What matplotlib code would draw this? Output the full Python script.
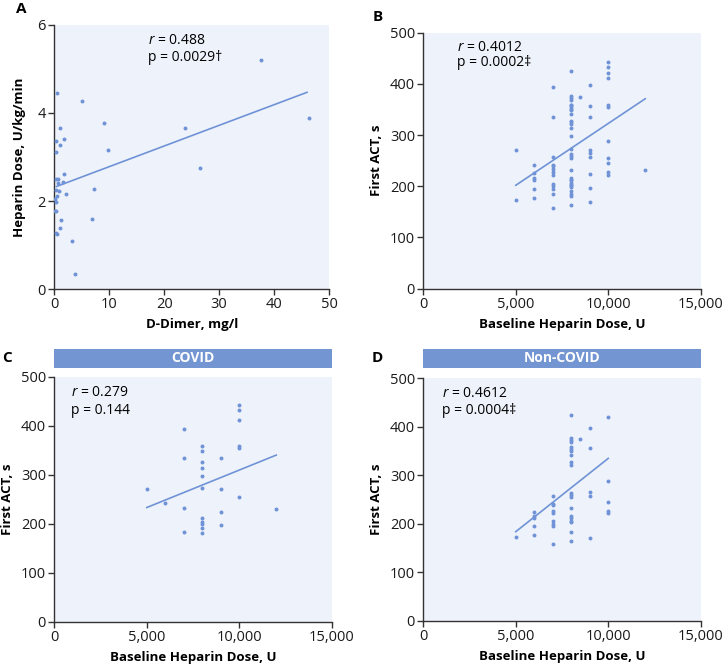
import numpy as np
import matplotlib
matplotlib.use("Agg")
import matplotlib.pyplot as plt
from matplotlib.ticker import FuncFormatter

plt.rcParams['font.family'] = ['Open Sans', 'DejaVu Sans']
plt.rcParams['mathtext.fontset'] = 'custom'
plt.rcParams['mathtext.it'] = 'Open Sans:italic'
plt.rcParams['mathtext.rm'] = 'Open Sans'

# ---- data ----
# panel A: D-dimer vs heparin dose
ddimer = [37.7, 46.4, 23.8, 26.5, 5.1, 9.1, 9.8, 7.3, 6.8, 3.3, 3.7, 0.5, 1.0, 1.8, 0.3, 1.0,
          0.3, 1.8, 0.3, 0.7, 1.6, 0.7, 0.4, 0.8, 2.1, 0.5, 0.2, 0.4, 0.1, 0.4, 1.2, 1.0, 0.4, 0.5]
hep_rate = [5.20, 3.88, 3.67, 2.74, 4.28, 3.77, 3.17, 2.28, 1.58, 1.08, 0.33, 4.45, 3.66, 3.42, 3.37, 3.27,
            3.11, 2.61, 2.50, 2.49, 2.44, 2.42, 2.25, 2.23, 2.15, 2.11, 2.04, 1.98, 1.78, 1.77, 1.56, 1.38, 1.28, 1.24]

# panel C: COVID
covid_dose = [5000, 6000, 7000, 7000, 7000, 7000,
              8000, 8000, 8000, 8000, 8000, 8000, 8000, 8000, 8000, 8000, 8000,
              9000, 9000, 9000, 9000,
              10000, 10000, 10000, 10000, 10000, 10000, 12000]
covid_act = [271, 242, 393, 335, 233, 184,
             359, 349, 325, 314, 298, 272, 212, 203, 199, 191, 181,
             335, 271, 224, 197,
             443, 433, 412, 359, 355, 255, 231]

# panel D: non-COVID
noncovid_dose = [5000, 6000, 6000, 6000, 6000, 6000,
                 7000, 7000, 7000, 7000, 7000, 7000, 7000, 7000, 7000,
                 8000, 8000, 8000, 8000, 8000, 8000, 8000, 8000, 8000, 8000,
                 8000, 8000, 8000, 8000, 8000, 8000, 8000, 8000, 8000, 8000,
                 8500, 9000, 9000, 9000, 9000, 9000,
                 10000, 10000, 10000, 10000, 10000]
noncovid_act = [174, 225, 216, 213, 195, 178,
                258, 242, 239, 227, 222, 205, 200, 195, 158,
                425, 376, 372, 368, 358, 354, 350, 342, 328, 322,
                264, 260, 256, 232, 216, 212, 207, 203, 184, 164,
                375, 398, 356, 266, 258, 170,
                421, 289, 245, 227, 223]

# panel B: all patients
all_dose = covid_dose + noncovid_dose
all_act = covid_act + noncovid_act

# regression lines (end points)
fit_a = ([0.4, 46.0], [2.33, 4.47])
fit_b = ([5000, 12000], [202, 371])
fit_c = ([5000, 12000], [233, 340])
fit_d = ([5000, 10000], [184, 335])

BG = '#eef2fa'
DOT = '#6f93d6'
STRIP = '#7396d3'
W, H = 723, 666

fig = plt.figure(figsize=(W / 100, H / 100), dpi=100)


def box(l, t, r, b):
    return [l / W, (H - b) / H, (r - l) / W, (b - t) / H]


def style(ax):
    ax.set_facecolor(BG)
    for s in ('top', 'right'):
        ax.spines[s].set_visible(False)
    for s in ('left', 'bottom'):
        ax.spines[s].set_color('#333333')
        ax.spines[s].set_linewidth(1.0)
    ax.tick_params(direction='out', length=4, width=1, color='#333333',
                   labelsize=10.5, labelcolor='#1a1a1a', pad=2)


comma = FuncFormatter(lambda v, p: f'{int(v):,}')


def stats(ax, x, y, r, p):
    ax.text(x, y[0], r'$\it{r}$ = ' + r, transform=ax.transAxes, fontsize=10, va='center')
    ax.text(x, y[1], 'p = ' + p, transform=ax.transAxes, fontsize=10, va='center')


def act_panel(ax, x, y, fit):
    style(ax)
    ax.scatter(x, y, s=8, color=DOT, linewidths=0, zorder=3)
    ax.plot(fit[0], fit[1], color=DOT, lw=1.2, zorder=2)
    ax.set_xlim(0, 15000)
    ax.set_ylim(0, 500)
    ax.set_xticks([0, 5000, 10000, 15000])
    ax.set_yticks(range(0, 501, 100))
    ax.xaxis.set_major_formatter(comma)
    ax.set_xlabel('Baseline Heparin Dose, U', fontsize=9.5, fontweight='bold', labelpad=4)
    ax.set_ylabel('First ACT, s', fontsize=9.5, fontweight='bold', labelpad=5)


# A
axA = fig.add_axes(box(54.3, 25, 329, 289))
style(axA)
axA.scatter(ddimer, hep_rate, s=8, color=DOT, linewidths=0, zorder=3)
axA.plot(fit_a[0], fit_a[1], color=DOT, lw=1.2, zorder=2)
axA.set_xlim(0, 50)
axA.set_ylim(0, 6)
axA.set_xticks(range(0, 51, 10))
axA.set_yticks([0, 2, 4, 6])
axA.set_xlabel('D-Dimer, mg/l', fontsize=9.5, fontweight='bold', labelpad=4)
axA.set_ylabel('Heparin Dose, U/kg/min', fontsize=9.5, fontweight='bold', labelpad=8)
stats(axA, 0.34, (0.943, 0.878), '0.488', '0.0029\u2020')

# B
axB = fig.add_axes(box(423.3, 32.7, 700.7, 288.7))
act_panel(axB, all_dose, all_act, fit_b)
stats(axB, 0.12, (0.944, 0.884), '0.4012', '0.0002\u2021')

# C
axC = fig.add_axes(box(54.3, 376.7, 331.7, 621.7))
act_panel(axC, covid_dose, covid_act, fit_c)
stats(axC, 0.06, (0.935, 0.864), '0.279', '0.144')

# D
axD = fig.add_axes(box(423.3, 378.3, 700.7, 621))
act_panel(axD, noncovid_dose, noncovid_act, fit_d)
stats(axD, 0.066, (0.938, 0.869), '0.4612', '0.0004\u2021')

# strips
for (l, r), label in [((54.3, 331.7), 'COVID'), ((423.3, 700.7), 'Non-COVID')]:
    sax = fig.add_axes(box(l, 349, r, 368))
    sax.set_facecolor(STRIP)
    sax.set_xticks([])
    sax.set_yticks([])
    for s in sax.spines.values():
        s.set_visible(False)
    sax.text(0.5, 0.5, label, color='white', fontsize=10, fontweight='bold',
             ha='center', va='center', transform=sax.transAxes)

# panel letters
for (x, y), letter in [((21, 9), 'A'), ((378, 17), 'B'), ((7, 358), 'C'), ((377, 358), 'D')]:
    fig.text(x / W, 1 - y / H, letter, fontsize=11, fontweight='bold', ha='center', va='center')

fig.savefig('out.png', dpi=100, facecolor='white')
